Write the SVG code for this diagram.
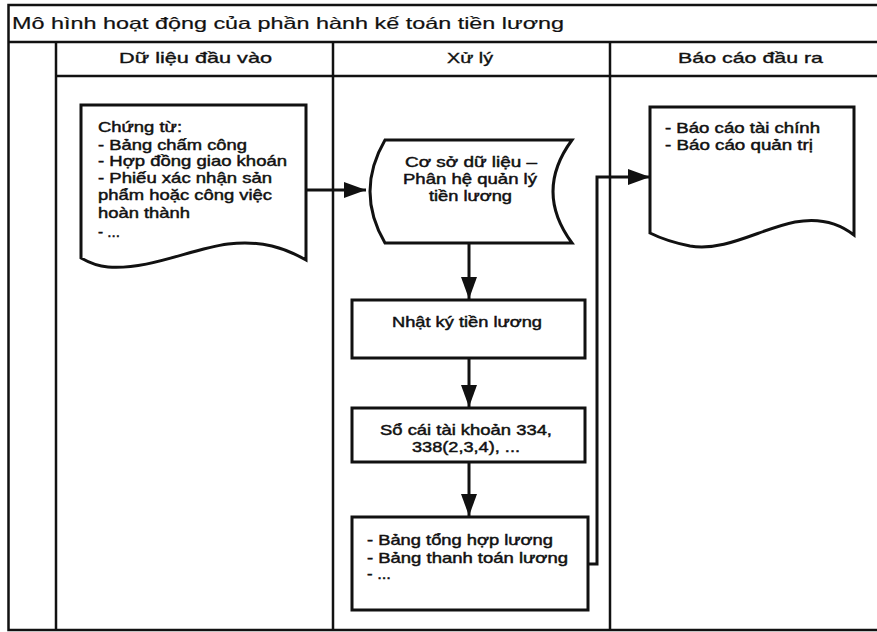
<svg xmlns="http://www.w3.org/2000/svg" width="877" height="632" viewBox="0 0 877 632">
  <style>
    .frame { fill: none; stroke: #111; stroke-width: 2.5; }
    .shape { fill: #fff; stroke: #111; stroke-width: 3; stroke-linejoin: miter; }
    .conn { fill: none; stroke: #111; stroke-width: 3; }
    text { font-family: "Liberation Sans", Arial, sans-serif; fill: #111; }
    .title { font-size: 16.5px; stroke: #111; stroke-width: 0.2; }
    .head { font-size: 15px; stroke: #111; stroke-width: 0.35; }
    .body { font-size: 14.5px; stroke: #111; stroke-width: 0.45; }
  </style>
  <defs>
    <marker id="arrow" markerUnits="userSpaceOnUse" markerWidth="22" markerHeight="16" refX="22" refY="8" orient="auto">
      <path d="M0,0 L22,8 L0,16 Z" fill="#111"/>
    </marker>
  </defs>

  <rect width="877" height="632" fill="#fff"/>

  <!-- swimlane frame -->
  <g id="frame">
    <rect class="frame" x="8.5" y="5" width="875" height="625"/>
    <line class="frame" x1="8.5" y1="42" x2="877" y2="42"/>
    <line class="frame" x1="56" y1="76" x2="877" y2="76"/>
    <line class="frame" x1="56" y1="42" x2="56" y2="630"/>
    <line class="frame" x1="333" y1="42" x2="333" y2="630"/>
    <line class="frame" x1="610" y1="42" x2="610" y2="630"/>
    <text class="title" x="12" y="29" textLength="552" lengthAdjust="spacingAndGlyphs">Mô hình hoạt động của phần hành kế toán tiền lương</text>
    <text class="head" x="119" y="63" textLength="153" lengthAdjust="spacingAndGlyphs">Dữ liệu đầu vào</text>
    <text class="head" x="447" y="63" textLength="46" lengthAdjust="spacingAndGlyphs">Xử lý</text>
    <text class="head" x="678" y="63" textLength="145" lengthAdjust="spacingAndGlyphs">Báo cáo đầu ra</text>
  </g>

  <!-- connectors -->
  <g id="connectors">
    <path class="conn" d="M306,190 H366" marker-end="url(#arrow)"/>
    <path class="conn" d="M469,243 V299" marker-end="url(#arrow)"/>
    <path class="conn" d="M469,358 V407" marker-end="url(#arrow)"/>
    <path class="conn" d="M469,462 V516" marker-end="url(#arrow)"/>
    <path class="conn" d="M588,564 H597 V177 H650" marker-end="url(#arrow)"/>
  </g>

  <!-- input documents -->
  <g id="input-docs">
    <path class="shape" d="M81,105 H306 V260 C 285,248 262,240 228,244 C 190,249 150,270 108,267 C 96,266 88,262 81,258 Z"/>
    <text class="body" x="98" y="132" textLength="84" lengthAdjust="spacingAndGlyphs">Chứng từ:</text>
    <text class="body" x="98" y="150" textLength="149" lengthAdjust="spacingAndGlyphs">- Bảng chấm công</text>
    <text class="body" x="98" y="166" textLength="189" lengthAdjust="spacingAndGlyphs">- Hợp đồng giao khoán</text>
    <text class="body" x="98" y="183" textLength="174" lengthAdjust="spacingAndGlyphs">- Phiếu xác nhận sản</text>
    <text class="body" x="98" y="200" textLength="174" lengthAdjust="spacingAndGlyphs">phẩm hoặc công việc</text>
    <text class="body" x="98" y="218" textLength="92" lengthAdjust="spacingAndGlyphs">hoàn thành</text>
    <text class="body" x="98" y="237" textLength="22" lengthAdjust="spacingAndGlyphs">- ...</text>
  </g>

  <!-- payroll database -->
  <g id="database">
    <path class="shape" d="M385,140 H572 Q534,191.5 572,243 H385 Q355,191.5 385,140 Z"/>
    <text class="body" x="405" y="167" textLength="132" lengthAdjust="spacingAndGlyphs">Cơ sở dữ liệu –</text>
    <text class="body" x="403" y="184" textLength="134" lengthAdjust="spacingAndGlyphs">Phân hệ quản lý</text>
    <text class="body" x="429" y="201" textLength="83" lengthAdjust="spacingAndGlyphs">tiền lương</text>
  </g>

  <!-- payroll journal -->
  <g id="journal">
    <rect class="shape" x="352" y="300" width="233" height="58"/>
    <text class="body" x="392" y="327" textLength="150" lengthAdjust="spacingAndGlyphs">Nhật ký tiền lương</text>
  </g>

  <!-- ledger -->
  <g id="ledger">
    <rect class="shape" x="352" y="408" width="233" height="54"/>
    <text class="body" x="380" y="435" textLength="172" lengthAdjust="spacingAndGlyphs">Sổ cái tài khoản 334,</text>
    <text class="body" x="412" y="452" textLength="108" lengthAdjust="spacingAndGlyphs">338(2,3,4), ...</text>
  </g>

  <!-- payroll sheets -->
  <g id="payroll-sheets">
    <rect class="shape" x="352" y="517" width="236" height="93"/>
    <text class="body" x="367" y="545" textLength="186" lengthAdjust="spacingAndGlyphs">- Bảng tổng hợp lương</text>
    <text class="body" x="367" y="563" textLength="201" lengthAdjust="spacingAndGlyphs">- Bảng thanh toán lương</text>
    <text class="body" x="367" y="579" textLength="24" lengthAdjust="spacingAndGlyphs">- ...</text>
  </g>

  <!-- output reports -->
  <g id="reports">
    <path class="shape" d="M650,107 H854 V235 C 840,224 822,217 795,222 C 760,229 725,252 690,246 C 675,243 660,238 650,233 Z"/>
    <text class="body" x="665" y="133" textLength="155" lengthAdjust="spacingAndGlyphs">- Báo cáo tài chính</text>
    <text class="body" x="665" y="150" textLength="148" lengthAdjust="spacingAndGlyphs">- Báo cáo quản trị</text>
  </g>
</svg>
